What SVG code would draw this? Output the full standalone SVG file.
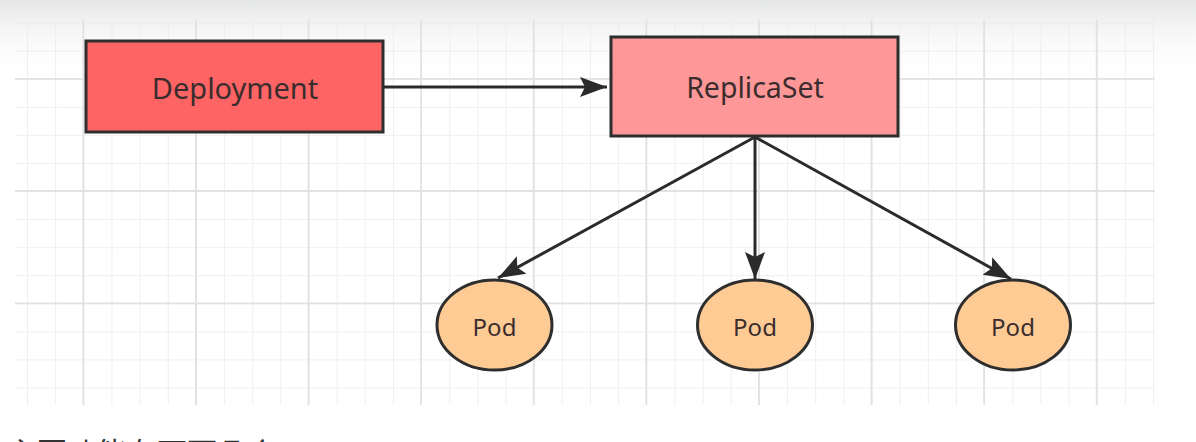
<svg xmlns="http://www.w3.org/2000/svg" width="1196" height="442" viewBox="0 0 1196 442">
  <defs>
    <linearGradient id="topfade" x1="0" y1="0" x2="0" y2="1">
      <stop offset="0" stop-color="#e4e6e5"/>
      <stop offset="1" stop-color="#ffffff" stop-opacity="0"/>
    </linearGradient>
    <marker id="arrow" viewBox="0 -11 28 22" refX="27" refY="0" markerWidth="28" markerHeight="22" markerUnits="userSpaceOnUse" orient="auto">
      <path d="M0,-10 L27,0 L0,10 L5,0 Z" fill="#2b2b2b"/>
    </marker>
    <pattern id="minor" x="27" y="22.7" width="28.15" height="28.06" patternUnits="userSpaceOnUse">
      <path d="M0,0 V28.06 M0,0 H28.15" fill="none" stroke="#ececec" stroke-width="1.6"/>
    </pattern>
  </defs>
  <style>
    .box { stroke: #2e2e2e; stroke-width: 3; }
    .pod { fill: #fecb94; stroke: #2e2e2e; stroke-width: 3; }
    .lbl { font-family: "Noto Sans", "Open Sans", sans-serif; fill: #3b2d2d; text-anchor: middle; dominant-baseline: central; }
    .big { font-size: 29px; }
    .mid { font-size: 28.5px; }
    .small { font-size: 24px; }
    .edge { stroke: #2b2b2b; stroke-width: 3; fill: none; marker-end: url(#arrow); }
    .major { stroke: #e2e2e2; stroke-width: 1.8; }
  </style>

  <rect x="0" y="0" width="1196" height="442" fill="#ffffff"/>
  <rect x="0" y="0" width="1196" height="80" fill="url(#topfade)"/>

  <g id="grid">
    <rect x="15" y="20" width="1140" height="385" fill="url(#minor)"/>
    <path class="major" d="M83.3,20 V405 M195.9,20 V405 M308.5,20 V405 M421.1,20 V405 M533.7,20 V405 M646.3,20 V405 M758.9,20 V405 M871.5,20 V405 M984.1,20 V405 M1096.7,20 V405 M15,78.8 H1155 M15,191 H1155 M15,303.3 H1155"/>
  </g>

  <g id="connectors">
    <line class="edge" x1="384" y1="87" x2="607" y2="87"/>
    <line class="edge" x1="755" y1="137" x2="498" y2="278"/>
    <line class="edge" x1="755" y1="137" x2="755" y2="279"/>
    <line class="edge" x1="755" y1="137" x2="1011" y2="279"/>
  </g>

  <g id="deployment">
    <rect class="box" x="86" y="41" width="297" height="91" fill="#fe6464"/>
    <text class="lbl big" x="235" y="87">Deployment</text>
  </g>

  <g id="replicaset">
    <rect class="box" x="611" y="37" width="287" height="99" fill="#fe9898"/>
    <text class="lbl mid" x="755" y="87">ReplicaSet</text>
  </g>

  <g id="pod1">
    <ellipse class="pod" cx="494.5" cy="325" rx="57.5" ry="45"/>
    <text class="lbl small" x="494.5" y="326">Pod</text>
  </g>
  <g id="pod2">
    <ellipse class="pod" cx="755" cy="325" rx="57.5" ry="45"/>
    <text class="lbl small" x="755" y="326">Pod</text>
  </g>
  <g id="pod3">
    <ellipse class="pod" cx="1013" cy="325" rx="57.5" ry="45"/>
    <text class="lbl small" x="1013" y="326">Pod</text>
  </g>

  <text x="7" y="464" font-family="'Noto Sans CJK SC', sans-serif" font-size="30" fill="#333333">主要功能有下面几个</text>
</svg>
